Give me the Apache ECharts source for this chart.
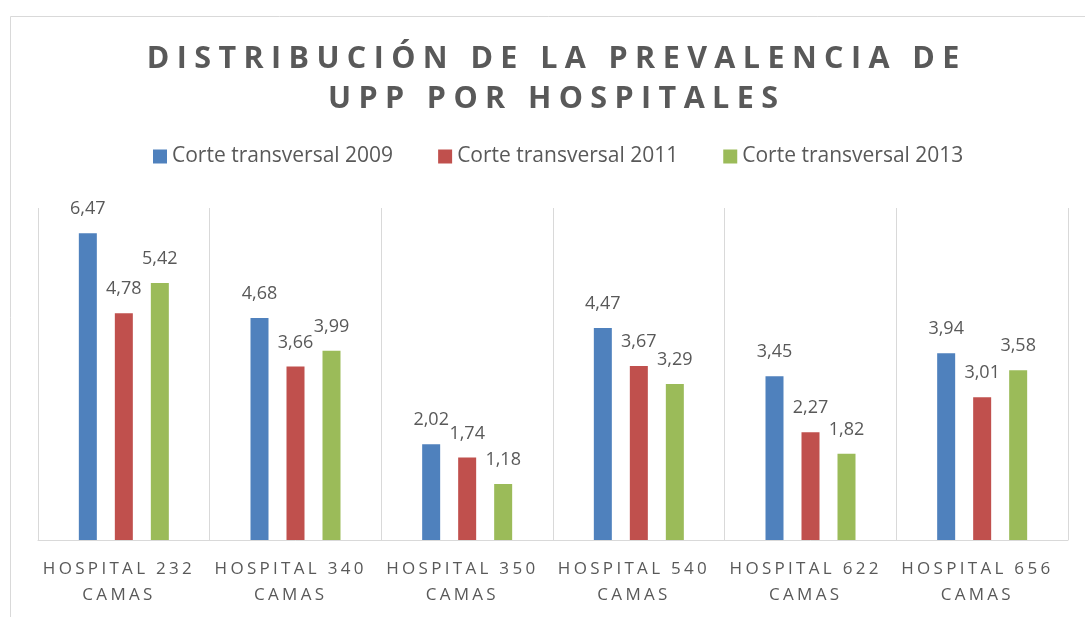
<!DOCTYPE html>
<html>
<head>
<meta charset="utf-8">
<script src="https://cdn.jsdelivr.net/npm/echarts@6/dist/echarts.min.js"></script>
<style>html,body{margin:0;padding:0;background:#fff}#c{width:1085px;height:617px}</style>
</head>
<body>
<div id="c"></div>
<script>
var titleText = 'DISTRIBUCIÓN DE LA PREVALENCIA DE\nUPP POR HOSPITALES';
var categories = ['HOSPITAL 232\nCAMAS','HOSPITAL 340\nCAMAS','HOSPITAL 350\nCAMAS','HOSPITAL 540\nCAMAS','HOSPITAL 622\nCAMAS','HOSPITAL 656\nCAMAS'];
var seriesNames = ['Corte transversal 2009','Corte transversal 2011','Corte transversal 2013'];
var values2009 = [6.47, 4.68, 2.02, 4.47, 3.45, 3.94];
var values2011 = [4.78, 3.66, 1.74, 3.67, 2.27, 3.01];
var values2013 = [5.42, 3.99, 1.18, 3.29, 1.82, 3.58];
var colors = ['#4F81BD', '#C0504D', '#9BBB59'];

function spaced(str, key) {
  return str.split('\n').map(function (line) {
    return line.split('').map(function (ch) { return '{' + key + '|' + ch + '}'; }).join('');
  }).join('\n');
}

var chart = echarts.init(document.getElementById('c'));
var font = '"Open Sans", sans-serif';
function mk(name, data, color) {
  return {
    name: name, type: 'bar', data: data, barWidth: 18, barGap: '100%',
    itemStyle: { color: color },
    label: {
      show: true, position: 'top', distance: 15,
      color: '#595959', fontSize: 18, fontFamily: font,
      formatter: function (p) { return p.value.toFixed(2).replace('.', ','); }
    }
  };
}
chart.setOption({
  animation: false,
  title: {
    text: spaced(titleText, 't'),
    left: 548, top: 34, textAlign: 'center',
    textStyle: {
      rich: { t: { fontFamily: font, fontWeight: 'bold', fontSize: 30.5, color: '#595959', lineHeight: 40, padding: [0, 3.7, 0, 3.7] } }
    }
  },
  legend: {
    left: 153, top: 146, padding: 0, itemWidth: 14, itemHeight: 14, itemGap: 45, icon: 'rect',
    textStyle: { fontFamily: font, fontSize: 21, color: '#595959' },
    data: seriesNames
  },
  grid: { left: 38, right: 17, top: 208, bottom: 77 },
  xAxis: {
    type: 'category', data: categories,
    axisLine: { lineStyle: { color: '#D9D9D9', width: 1 } },
    axisTick: { show: false },
    splitLine: { show: true, lineStyle: { color: '#D9D9D9', width: 1 } },
    axisLabel: {
      interval: 0, margin: 16, padding: [0, 13, 0, 0],
      formatter: function (v) { return spaced(v, 'x'); },
      rich: { x: { fontFamily: font, fontSize: 17, color: '#595959', lineHeight: 26, padding: [0, 1.65, 0, 1.65] } }
    }
  },
  yAxis: { type: 'value', min: 0, max: 7, show: false, splitLine: { show: false } },
  graphic: [{
    type: 'rect', silent: true,
    shape: { x: 10.5, y: 16.5, width: 1200, height: 800 },
    style: { fill: 'none', stroke: '#D9D9D9', lineWidth: 1 }
  }],
  series: [
    mk(seriesNames[0], values2009, colors[0]),
    mk(seriesNames[1], values2011, colors[1]),
    mk(seriesNames[2], values2013, colors[2])
  ]
});
</script>
</body>
</html>
